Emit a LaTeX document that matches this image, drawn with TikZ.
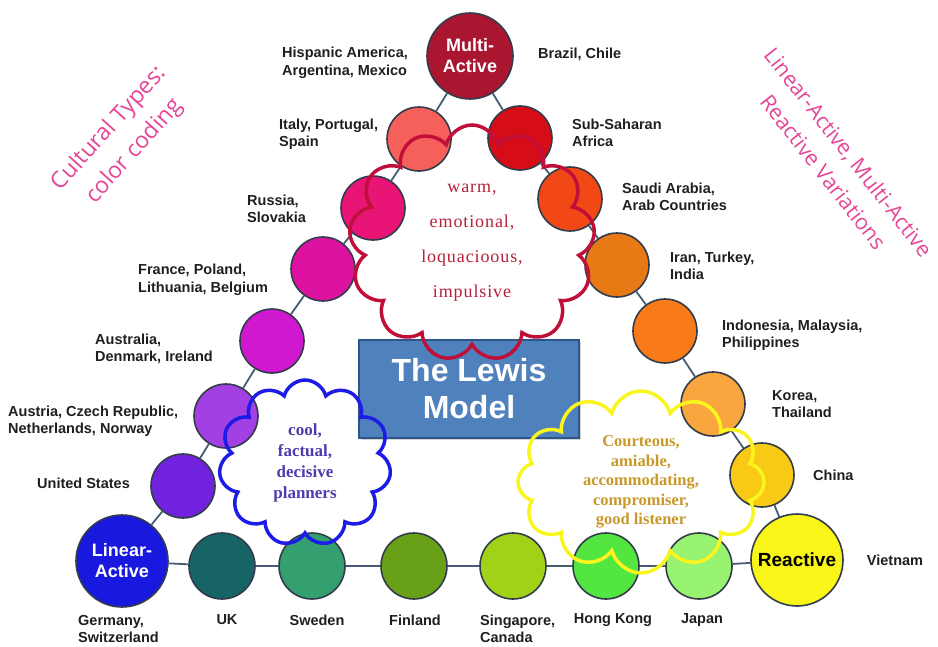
\documentclass[tikz,border=0pt]{standalone}
\usepackage{fontspec}
\setmainfont{Liberation Serif}
\setsansfont{Liberation Sans}
\newfontfamily\scribble{Open Sans}
\usepackage{tikz}
\usetikzlibrary{shapes.symbols,shadows}
\definecolor{mycrimson}{RGB}{170,22,48}
\definecolor{mysalmon}{RGB}{246,96,90}
\definecolor{myred}{RGB}{214,12,22}
\definecolor{myrose}{RGB}{232,20,118}
\definecolor{myvermilion}{RGB}{242,72,22}
\definecolor{mymagenta}{RGB}{222,18,160}
\definecolor{myorange}{RGB}{232,122,22}
\definecolor{myorchid}{RGB}{208,24,208}
\definecolor{mytangerine}{RGB}{248,122,24}
\definecolor{myviolet}{RGB}{162,64,228}
\definecolor{myapricot}{RGB}{250,166,62}
\definecolor{myindigo}{RGB}{112,34,222}
\definecolor{mygold}{RGB}{248,202,22}
\definecolor{myblue}{RGB}{24,24,222}
\definecolor{myteal}{RGB}{22,100,100}
\definecolor{myseagreen}{RGB}{52,160,112}
\definecolor{myolive}{RGB}{104,160,24}
\definecolor{mylime}{RGB}{162,210,24}
\definecolor{mygreen}{RGB}{84,230,64}
\definecolor{mymint}{RGB}{152,244,112}
\definecolor{myyellow}{RGB}{250,245,24}
\definecolor{rim}{RGB}{50,60,75}
\definecolor{linkblue}{RGB}{70,92,115}
\definecolor{boxblue}{RGB}{79,129,189}
\definecolor{boxedge}{RGB}{45,85,135}
\definecolor{warmred}{RGB}{182,32,58}
\definecolor{cloudred}{RGB}{192,16,58}
\definecolor{coolblue}{RGB}{76,60,172}
\definecolor{cloudblue}{RGB}{28,28,230}
\definecolor{politegold}{RGB}{200,152,40}
\definecolor{cloudyellow}{RGB}{250,245,30}
\definecolor{notepink}{RGB}{228,70,150}

\begin{document}
\begin{tikzpicture}[x=1pt,y=-1pt,
  country/.style={circle, draw=rim, line width=1.6pt, inner sep=0pt, minimum size=64, fill=#1},
  hub/.style={country={#1}, minimum size=90, align=center,
    font=\sffamily\bfseries\fontsize{18}{21}\selectfont},
  land/.style={inner sep=0pt, align=left, text=black!88,
    font=\sffamily\bfseries\fontsize{14.5}{17.5}\selectfont},
  link/.style={draw=linkblue, line width=1.8pt},
  trait/.style={cloud, cloud puffs=#1, cloud ignores aspect, line width=3.5pt, inner sep=0pt, align=center},
  note/.style={text=notepink, align=center, font=\scribble\fontsize{23}{34}\selectfont}
]
\useasboundingbox (0,0) rectangle (938,646);

% the three corner types
\node[hub=mycrimson, text=white, minimum size=86] (multi) at (470,56) {Multi-\\Active};
\node[hub=myblue, text=white, minimum size=92] (linear) at (122,561) {Linear-\\Active};
\node[hub=myyellow, text=black, minimum size=92, font=\sffamily\bfseries\fontsize{19}{21}\selectfont] (reactive) at (797,560) {Reactive};

% left side, multi -> linear
\node[country=mysalmon] (italy) at (419,139) {};
\node[country=myrose] (russia) at (373,208) {};
\node[country=mymagenta] (france) at (323,269) {};
\node[country=myorchid] (australia) at (272,341) {};
\node[country=myviolet] (austria) at (226,416) {};
\node[country=myindigo] (usa) at (183,486) {};

% right side, multi -> reactive
\node[country=myred] (subsahara) at (520,138) {};
\node[country=myvermilion] (saudi) at (570,199) {};
\node[country=myorange] (iran) at (617,265) {};
\node[country=mytangerine] (indonesia) at (665,331) {};
\node[country=myapricot] (korea) at (713,404) {};
\node[country=mygold] (china) at (762,475) {};

% bottom row, linear -> reactive
\node[country=myteal, minimum size=66] (uk) at (222,566) {};
\node[country=myseagreen, minimum size=66] (sweden) at (312,566) {};
\node[country=myolive, minimum size=66] (finland) at (414,566) {};
\node[country=mylime, minimum size=66] (singapore) at (513,566) {};
\node[country=mygreen, minimum size=66] (hongkong) at (606,566) {};
\node[country=mymint, minimum size=66] (japan) at (699,566) {};

\draw[link] (multi) -- (italy) -- (russia) -- (france) -- (australia) -- (austria) -- (usa) -- (linear);
\draw[link] (linear) -- (uk) -- (sweden) -- (finland) -- (singapore) -- (hongkong) -- (japan) -- (reactive);
\draw[link] (reactive) -- (china) -- (korea) -- (indonesia) -- (iran) -- (saudi) -- (subsahara) -- (multi);

% country names
\node[land, anchor=west] (hispanic) at (282,63) {Hispanic America,\\Argentina, Mexico};
\node[land, anchor=west] (brazil) at (538,54) {Brazil, Chile};
\node[land, anchor=west] (italyname) at (279,134) {Italy, Portugal,\\Spain};
\node[land, anchor=west] (africaname) at (572,133) {Sub-Saharan\\Africa};
\node[land, anchor=west] (russianame) at (247,209) {Russia,\\Slovakia};
\node[land, anchor=west] (saudiname) at (622,197) {Saudi Arabia,\\Arab Countries};
\node[land, anchor=west] (francename) at (138,280) {France, Poland,\\Lithuania, Belgium};
\node[land, anchor=west] (iranname) at (670,266) {Iran, Turkey,\\India};
\node[land, anchor=west] (australianame) at (95,349) {Australia,\\Denmark, Ireland};
\node[land, anchor=west] (indonesianame) at (722,335) {Indonesia, Malaysia,\\Philippines};
\node[land, anchor=west] (austrianame) at (8,421) {Austria, Czech Republic,\\Netherlands, Norway};
\node[land, anchor=west] (koreaname) at (772,404) {Korea,\\Thailand};
\node[land, anchor=west] (usaname) at (37,483) {United States};
\node[land, anchor=west] (chinaname) at (813,475) {China};
\node[land, anchor=west] (germanyname) at (78,629) {Germany,\\Switzerland};
\node[land] (ukname) at (227,620) {UK};
\node[land] (swedenname) at (317,620) {Sweden};
\node[land] (finlandname) at (415,620) {Finland};
\node[land, anchor=west] (singaporename) at (480,629) {Singapore,\\Canada};
\node[land] (hongkongname) at (613,620) {Hong Kong};
\node[land] (japanname) at (702,620) {Japan};
\node[land] (vietnamname) at (895,560) {Vietnam};

% title box
\node[draw=boxedge, line width=1.5pt, fill=boxblue, text=white, align=center,
  minimum width=220, minimum height=98, drop shadow={opacity=0.35, shadow xshift=2pt, shadow yshift=-2pt},
  font=\sffamily\bfseries\fontsize{32}{37}\selectfont] (lewis) at (469,389) {The Lewis\\Model};

% thought clouds
\node[trait=13, draw=cloudred, text=warmred, minimum width=246, minimum height=236,
  font={\fontsize{18}{35}\selectfont\addfontfeatures{LetterSpace=5}}] (warm) at (472,243)
  {warm,\\emotional,\\loquacioous,\\impulsive};
\node[trait=11, draw=cloudblue, text=coolblue, minimum width=172, minimum height=166,
  font=\bfseries\fontsize{17}{21}\selectfont] (cool) at (305,463)
  {cool,\\factual,\\decisive\\planners};
\node[trait=12, draw=cloudyellow, text=politegold, minimum width=246, minimum height=182,
  font=\bfseries\fontsize{16.5}{19.5}\selectfont] (polite) at (641,482)
  {Courteous,\\amiable,\\accommodating,\\compromiser,\\good listener};

% handwritten notes
\node[note, rotate=48] (coding) at (122,140) {Cultural Types:\\color coding};
\node[note, rotate=-52, font=\scribble\fontsize{21.5}{32}\selectfont] (variations) at (836,162) {Linear-Active, Multi-Active\\Reactive Variations};

\end{tikzpicture}
\end{document}
